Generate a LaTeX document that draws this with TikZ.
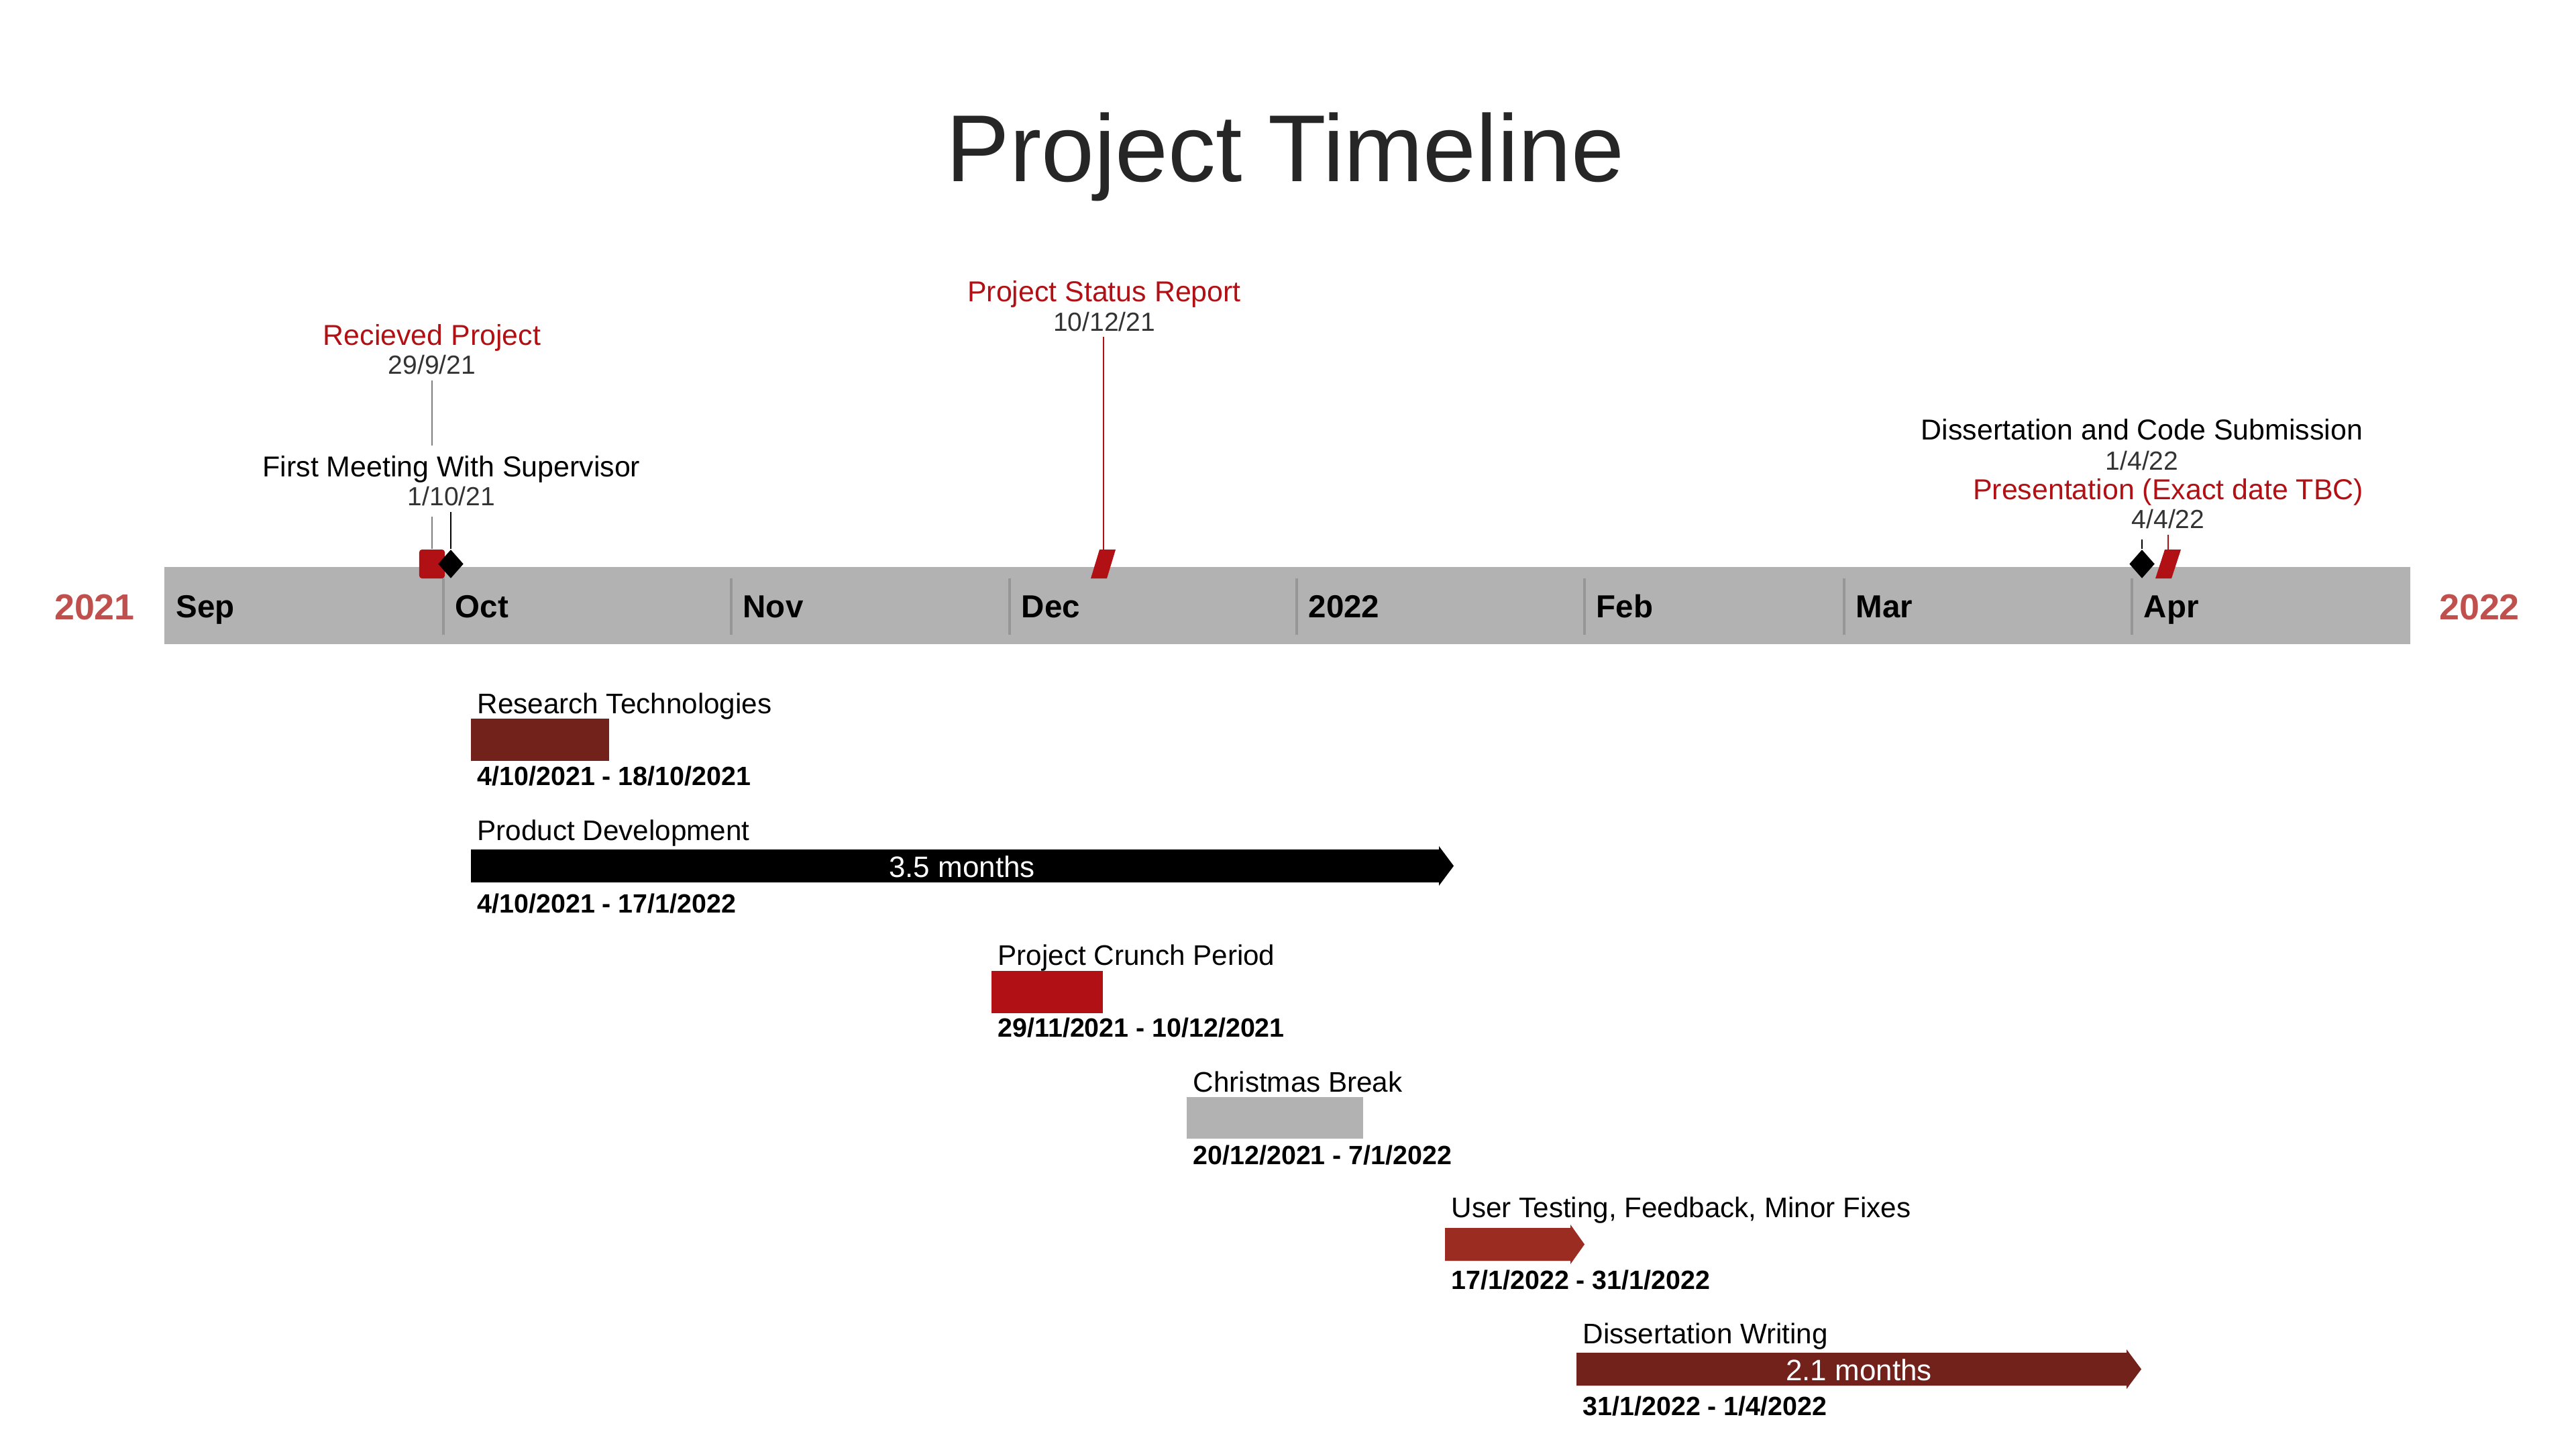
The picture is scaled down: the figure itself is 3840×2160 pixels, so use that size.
\documentclass[tikz,border=0pt]{standalone}
\usepackage{fontspec}
\setmainfont{Liberation Sans}
\usetikzlibrary{shapes.geometric}
\definecolor{msred}{RGB}{177,16,20}
\definecolor{yearred}{RGB}{192,80,77}
\definecolor{bargray}{RGB}{178,178,178}
\definecolor{sepgray}{RGB}{150,150,150}
\definecolor{maroon}{RGB}{115,33,27}
\definecolor{rust}{RGB}{155,44,33}
\definecolor{titlegray}{RGB}{38,38,38}
\definecolor{dategray}{RGB}{51,51,51}
\definecolor{linegray}{RGB}{128,128,128}
\begin{document}
\begin{tikzpicture}[x=0.01cm,y=-0.01cm,
  mslabel/.style={font=\fontsize{12.2}{14}\selectfont, anchor=base, inner sep=0pt},
  msdate/.style={font=\fontsize{11.1}{13}\selectfont, text=dategray, anchor=base, inner sep=0pt},
  monthlbl/.style={font=\bfseries\fontsize{13.5}{16}\selectfont, anchor=base west, inner sep=0pt},
  yearlbl/.style={font=\bfseries\fontsize{15.3}{18}\selectfont, text=yearred, anchor=base, inner sep=0pt},
  tasktitle/.style={font=\fontsize{12}{14}\selectfont, anchor=base west, inner sep=0pt},
  taskdate/.style={font=\bfseries\fontsize{11.2}{13}\selectfont, anchor=base west, inner sep=0pt},
  durlbl/.style={font=\fontsize{12.5}{14}\selectfont, text=white, anchor=base, inner sep=0pt},
  monthsep/.style={sepgray, line width=1.1pt},
  conn/.style={line width=0.6pt},
  dmd/.style={diamond, fill=black, minimum width=0.38cm, minimum height=0.43cm, inner sep=0pt}
]
\useasboundingbox (0,0) rectangle (3840,2160);

% title
\node[font=\fontsize{40.3}{48}\selectfont, text=titlegray, anchor=base, inner sep=0pt] (title) at (1916,270) {Project Timeline};

% timeline bar
\fill[bargray] (245,845) rectangle (3593,960);
\foreach \x in {661,1090,1505,1933,2362,2749,3178}
  \draw[monthsep] (\x,862) -- (\x,946);
\node[monthlbl] (mSep) at (262,920) {Sep};
\node[monthlbl] (mOct) at (678,920) {Oct};
\node[monthlbl] (mNov) at (1107,920) {Nov};
\node[monthlbl] (mDec) at (1522,920) {Dec};
\node[monthlbl] (mJan) at (1950,920) {2022};
\node[monthlbl] (mFeb) at (2379,920) {Feb};
\node[monthlbl] (mMar) at (2766,920) {Mar};
\node[monthlbl] (mApr) at (3195,920) {Apr};
\node[yearlbl] (y1) at (141,923) {2021};
\node[yearlbl] (y2) at (3696,923) {2022};

% milestone: Recieved Project
\node[mslabel, text=msred] (rpL) at (644,514) {Recieved Project};
\node[msdate] (rpD) at (644,557) {29/9/21};
\coordinate (rpA) at (644,567);
\coordinate (rpB) at (644,664);
\coordinate (rpC) at (644,770);
\node[rectangle, rounded corners=0.04cm, fill=msred, minimum width=0.38cm, minimum height=0.43cm, inner sep=0pt] (rpM) at (644,840.5) {};
\draw[conn, linegray] (rpA) -- (rpB);
\draw[conn, linegray] (rpC) -- (rpM.north);

% milestone: First Meeting
\node[mslabel] (fmL) at (673,710) {First Meeting With Supervisor};
\node[msdate] (fmD) at (673,753) {1/10/21};
\coordinate (fmA) at (672,763);
\node[dmd] (fmM) at (672,840.5) {};
\draw[conn, black] (fmA) -- (fmM.north);

% milestone: Project Status Report
\node[mslabel, text=msred] (srL) at (1646,449) {Project Status Report};
\node[msdate] (srD) at (1646,493) {10/12/21};
\coordinate (srA) at (1645,502);
\coordinate (srM) at (1645,819);
\fill[msred] (1626,862) -- (1650,862) -- (1663,819) -- (1639,819) -- cycle;
\draw[conn, msred] (srA) -- (srM);

% milestone: Dissertation and Code Submission
\node[mslabel] (dsL) at (3193,655) {Dissertation and Code Submission};
\node[msdate] (dsD) at (3193,700) {1/4/22};
\coordinate (dsA) at (3193,804);
\node[dmd] (dsM) at (3193,840.5) {};
\draw[conn, black] (dsA) -- (dsM.north);

% milestone: Presentation
\node[mslabel, text=msred] (prL) at (3232,744) {Presentation (Exact date TBC)};
\node[msdate] (prD) at (3232,787) {4/4/22};
\coordinate (prA) at (3232,797);
\coordinate (prM) at (3232,819);
\fill[msred] (3213,862) -- (3237,862) -- (3251,819) -- (3227,819) -- cycle;
\draw[conn, msred] (prA) -- (prM);

% task: Research Technologies
\fill[maroon] (702,1071) rectangle (908,1134);
\node[tasktitle] (t1) at (711,1063) {Research Technologies};
\node[taskdate] (d1) at (711,1170) {4/10/2021 - 18/10/2021};

% task: Product Development
\fill[black] (702,1266) -- (2145,1266) -- (2145,1261) -- (2167,1290.5) -- (2145,1320) -- (2145,1315) -- (702,1315) -- cycle;
\node[durlbl] (p2) at (1434,1307) {3.5 months};
\node[tasktitle] (t2) at (711,1252) {Product Development};
\node[taskdate] (d2) at (711,1360) {4/10/2021 - 17/1/2022};

% task: Project Crunch Period
\fill[msred] (1478,1447) rectangle (1644,1510);
\node[tasktitle] (t3) at (1487,1438) {Project Crunch Period};
\node[taskdate] (d3) at (1487,1545) {29/11/2021 - 10/12/2021};

% task: Christmas Break
\fill[bargray] (1769,1635) rectangle (2032,1697);
\node[tasktitle] (t4) at (1778,1627) {Christmas Break};
\node[taskdate] (d4) at (1778,1735) {20/12/2021 - 7/1/2022};

% task: User Testing
\fill[rust] (2154,1830) -- (2341,1830) -- (2341,1825) -- (2362,1854.5) -- (2341,1884) -- (2341,1879) -- (2154,1879) -- cycle;
\node[tasktitle] (t5) at (2163,1814) {User Testing, Feedback, Minor Fixes};
\node[taskdate] (d5) at (2163,1921) {17/1/2022 - 31/1/2022};

% task: Dissertation Writing
\fill[maroon] (2350,2016) -- (3170,2016) -- (3170,2011) -- (3192,2040.5) -- (3170,2070) -- (3170,2065) -- (2350,2065) -- cycle;
\node[durlbl] (p6) at (2771,2057) {2.1 months};
\node[tasktitle] (t6) at (2359,2002) {Dissertation Writing};
\node[taskdate] (d6) at (2359,2109) {31/1/2022 - 1/4/2022};
\end{tikzpicture}
\end{document}
